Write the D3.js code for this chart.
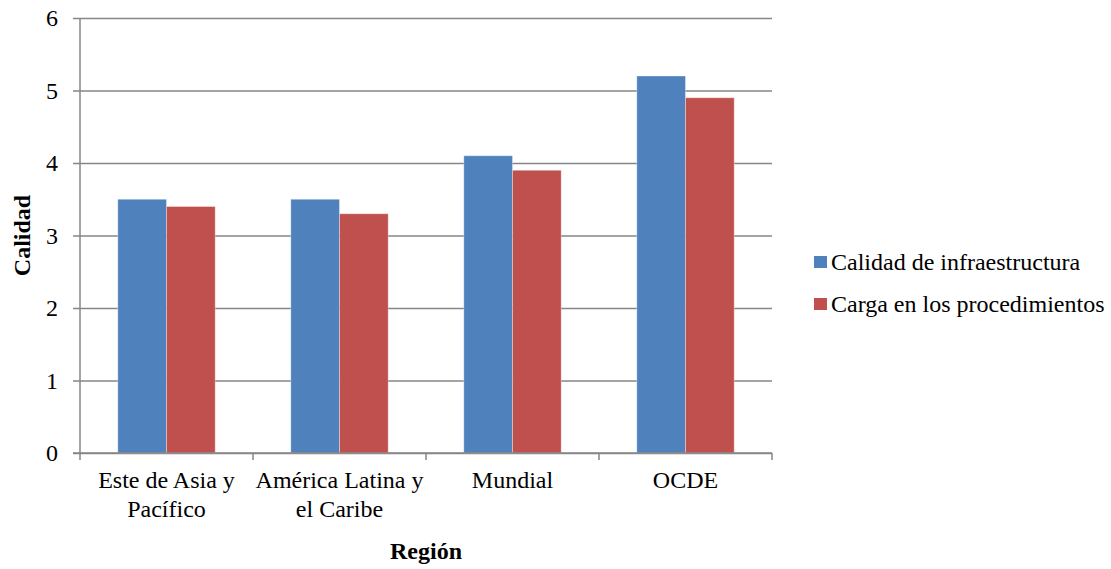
<!DOCTYPE html>
<html>
<head>
<meta charset="utf-8">
<script src="https://cdn.jsdelivr.net/npm/d3@7"></script>
<style>
  body { margin: 0; background: #fff; }
</style>
</head>
<body>
<svg id="chart" width="1111" height="569" font-family="Liberation Serif"></svg>
<script>
// Regions and their two indicators
const categories = [["Este de Asia y", "Pacífico"], ["América Latina y", "el Caribe"], ["Mundial"], ["OCDE"]];
const seriesNames = ["Calidad de infraestructura", "Carga en los procedimientos"];
const infraestructura = [3.5, 3.5, 4.1, 5.2];
const procedimientos = [3.4, 3.3, 3.9, 4.9];
const yTicks = [0, 1, 2, 3, 4, 5, 6];
const colors = ["#4F81BD", "#C0504D"];

const FONT = "Liberation Serif";
const svg = d3.select("#chart");
const plotLeft = 80, plotRight = 772, plotTop = 18, plotBottom = 453;

const catKeys = categories.map(c => c.join(" "));
const x0 = d3.scaleBand().domain(catKeys).range([plotLeft, plotRight]).paddingInner(0.437).paddingOuter(0.2185);
const x1 = d3.scaleBand().domain(seriesNames).range([0, x0.bandwidth()]);
const y = d3.scaleLinear().domain([0, 6]).range([plotBottom, plotTop]);

// horizontal gridlines with short ticks left of the axis
const yAxis = svg.append("g").attr("transform", `translate(${plotLeft},0)`)
  .call(d3.axisLeft(y).tickValues(yTicks).tickFormat(d3.format("d"))
    .tickSize(-(plotRight - plotLeft)).tickSizeOuter(0).tickPadding(22));
yAxis.attr("font-family", FONT).attr("font-size", 24);
yAxis.select(".domain").remove();
yAxis.selectAll(".tick line").attr("x1", -7).attr("stroke", "#868686").attr("stroke-width", 1.5);
yAxis.selectAll(".tick text").attr("fill", "#000");

// vertical axis line
svg.append("line").attr("x1", plotLeft).attr("x2", plotLeft).attr("y1", y(6)).attr("y2", plotBottom)
  .attr("stroke", "#868686").attr("stroke-width", 1.5);

// bars
const data = catKeys.map((k, i) => ({ key: k, values: [infraestructura[i], procedimientos[i]] }));
const groups = svg.append("g").selectAll("g").data(data).join("g")
  .attr("transform", d => `translate(${x0(d.key)},0)`);
groups.selectAll("rect").data(d => d.values.map((v, j) => ({ v, s: seriesNames[j], j })))
  .join("rect")
  .attr("x", d => x1(d.s))
  .attr("width", x1.bandwidth())
  .attr("y", d => y(d.v))
  .attr("height", d => plotBottom - y(d.v))
  .attr("fill", d => colors[d.j])
  .attr("stroke", "rgba(255,255,255,0.35)")
  .attr("stroke-width", 1);

// x axis with ticks between categories
svg.append("line").attr("x1", plotLeft - 7).attr("x2", plotRight).attr("y1", plotBottom).attr("y2", plotBottom)
  .attr("stroke", "#868686").attr("stroke-width", 1.5);
const boundaries = catKeys.map(k => x0(k) - x0.step() * x0.paddingOuter()).concat([plotRight]);
svg.append("g").selectAll("line").data(boundaries).join("line")
  .attr("x1", d => d).attr("x2", d => d).attr("y1", plotBottom).attr("y2", plotBottom + 7)
  .attr("stroke", "#868686").attr("stroke-width", 1.5);

// category labels (two lines where needed)
const labels = svg.append("g").selectAll("text").data(categories).join("text")
  .attr("text-anchor", "middle").attr("font-size", 24)
  .attr("transform", (d, i) => `translate(${x0(catKeys[i]) + x0.bandwidth() / 2},${plotBottom + 35})`);
labels.selectAll("tspan").data(d => d).join("tspan")
  .attr("x", 0).attr("dy", (d, i) => i === 0 ? 0 : 29).text(d => d);

// axis titles
svg.append("text").attr("x", (plotLeft + plotRight) / 2).attr("y", 559).attr("text-anchor", "middle")
  .attr("font-size", 24).attr("font-weight", "bold").text("Región");
svg.append("text").attr("transform", `translate(30,${(plotTop + plotBottom) / 2}) rotate(-90)`)
  .attr("text-anchor", "middle").attr("font-size", 24).attr("font-weight", "bold").text("Calidad");

// legend
const legend = svg.append("g").selectAll("g").data(seriesNames).join("g")
  .attr("transform", (d, i) => `translate(814,${256 + i * 42})`);
legend.append("rect").attr("width", 13).attr("height", 12).attr("fill", (d, i) => colors[i]);
legend.append("text").attr("x", 17).attr("y", 14).attr("font-size", 24).text(d => d);
</script>
</body>
</html>
